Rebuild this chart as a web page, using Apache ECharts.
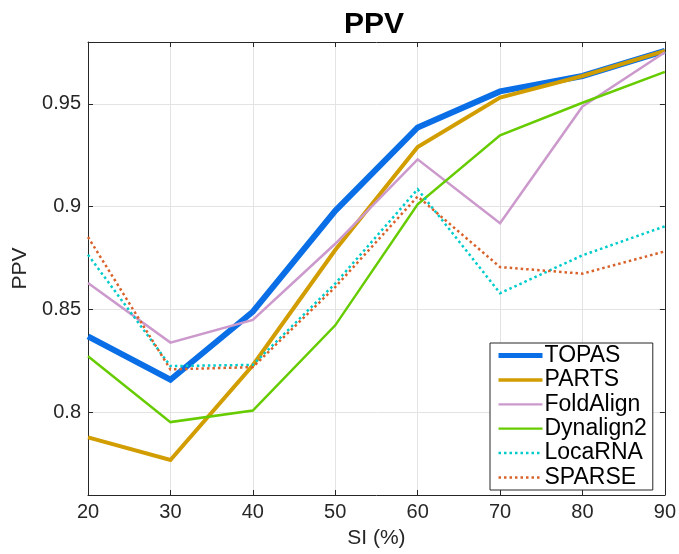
<!DOCTYPE html>
<html>
<head>
<meta charset="utf-8">
<script src="https://cdn.jsdelivr.net/npm/echarts@6/dist/echarts.min.js"></script>
<style>
  html, body { margin: 0; padding: 0; background: #ffffff; }
  #chart { width: 679px; height: 554px; }
</style>
</head>
<body>
<div id="chart"></div>
<script>
// Sequence identity (%) on the x axis
const si = [20, 30, 40, 50, 60, 70, 80, 90];

// PPV per method
const topas     = [0.837, 0.816, 0.849, 0.898, 0.9385, 0.956, 0.9635, 0.9757];
const parts     = [0.788, 0.777, 0.823, 0.879, 0.929, 0.953, 0.9635, 0.9757];
const foldAlign = [0.863, 0.834, 0.845, 0.882, 0.923, 0.892, 0.9487, 0.975];
const dynalign2 = [0.8274, 0.7954, 0.801, 0.8424, 0.9012, 0.9347, 0.9505, 0.9655];
const locaRNA   = [0.8767, 0.8226, 0.8232, 0.8627, 0.9085, 0.858, 0.8764, 0.8905];
const sparse    = [0.8853, 0.821, 0.8221, 0.861, 0.905, 0.8707, 0.8675, 0.8783];

const yTicks = [0.8, 0.85, 0.9, 0.95];

const FONT = '"Liberation Sans", Arial, Helvetica, sans-serif';
const AXIS_COLOR = '#262626';

function pairs(vals) {
  return si.map((x, i) => [x, vals[i]]);
}

function lineSeries(name, vals, color, width, dotted) {
  return {
    name: name,
    type: 'line',
    data: pairs(vals),
    symbol: 'none',
    xAxisIndex: 0,
    yAxisIndex: 0,
    lineStyle: {
      color: color,
      width: width,
      type: dotted ? [2.5, 3] : 'solid',
      cap: 'butt',
      join: 'miter'
    },
    itemStyle: { color: color },
    emphasis: { disabled: true },
    animation: false
  };
}

const boxAxisX = (pos, showLabels) => ({
  type: 'value',
  position: pos,
  min: 20, max: 90, interval: 10,
  axisLine: { show: true, onZero: false, lineStyle: { color: AXIS_COLOR, width: 1 } },
  axisTick: { show: true, inside: true, length: 5, lineStyle: { color: AXIS_COLOR } },
  axisLabel: { show: showLabels, color: '#262626', fontFamily: FONT, fontSize: 20, margin: 7 },
  splitLine: { show: showLabels, lineStyle: { color: '#e3e3e3', width: 1 } }
});

const boxAxisY = (pos, showLabels) => ({
  type: 'value',
  position: pos,
  min: 0.76, max: 0.98,
  axisLine: { show: true, onZero: false, lineStyle: { color: AXIS_COLOR, width: 1 } },
  axisTick: { show: true, inside: true, length: 5, customValues: yTicks, lineStyle: { color: AXIS_COLOR } },
  axisLabel: {
    show: showLabels, customValues: yTicks,
    color: '#262626', fontFamily: FONT, fontSize: 20, margin: 7,
    formatter: v => String(+v.toFixed(2))
  },
  splitLine: { show: showLabels, lineStyle: { color: '#e3e3e3', width: 1 } }
});

const xMain = boxAxisX('bottom', true);
xMain.name = 'SI (%)';
xMain.nameLocation = 'middle';
xMain.nameGap = 33;
xMain.nameTextStyle = { color: '#262626', fontFamily: FONT, fontSize: 21 };

const yMain = boxAxisY('left', true);
yMain.name = 'PPV';
yMain.nameLocation = 'middle';
yMain.nameGap = 56;
yMain.nameTextStyle = { color: '#262626', fontFamily: FONT, fontSize: 21 };

// Legend entries: plain line samples (no point markers), with their own stroke widths
const legendNames = ['TOPAS', 'PARTS', 'FoldAlign', 'Dynalign2', 'LocaRNA', 'SPARSE'];
const legendWidths = [5, 3.5, 2.2, 2.2, 2.5, 2.5];

const chart = echarts.init(document.getElementById('chart'), null, { renderer: 'canvas' });
chart.setOption({
  backgroundColor: '#ffffff',
  animation: false,
  title: {
    text: 'PPV',
    left: 339,
    top: 5,
    textStyle: { fontFamily: FONT, fontSize: 30, fontWeight: 'bold', color: '#000000' }
  },
  grid: { left: 88, right: 12, top: 42, bottom: 53, containLabel: false },
  xAxis: [xMain, boxAxisX('top', false)],
  yAxis: [yMain, boxAxisY('right', false)],
  legend: {
    orient: 'vertical',
    left: 490,
    top: 343,
    padding: [1, 6, 1, 6],
    itemGap: 1.4,
    itemWidth: 44,
    itemHeight: 14,
    backgroundColor: '#ffffff',
    borderColor: AXIS_COLOR,
    borderWidth: 1,
    borderRadius: 0,
    itemStyle: { opacity: 0, borderWidth: 0 },
    lineStyle: { width: 'inherit' },
    textStyle: { fontFamily: FONT, fontSize: 23, color: '#000000', lineHeight: 22, padding: [0, 0, 0, -3] },
    data: legendNames.map((n, i) => ({ name: n, lineStyle: { width: legendWidths[i] } }))
  },
  series: [
    lineSeries('TOPAS', topas, '#0a6fe6', 6, false),
    lineSeries('PARTS', parts, '#d19d00', 4, false),
    lineSeries('FoldAlign', foldAlign, '#cc99cc', 2.5, false),
    lineSeries('Dynalign2', dynalign2, '#66cc00', 2.5, false),
    lineSeries('LocaRNA', locaRNA, '#00cccc', 2.5, true),
    lineSeries('SPARSE', sparse, '#d9622b', 2.5, true)
  ]
});
</script>
</body>
</html>
